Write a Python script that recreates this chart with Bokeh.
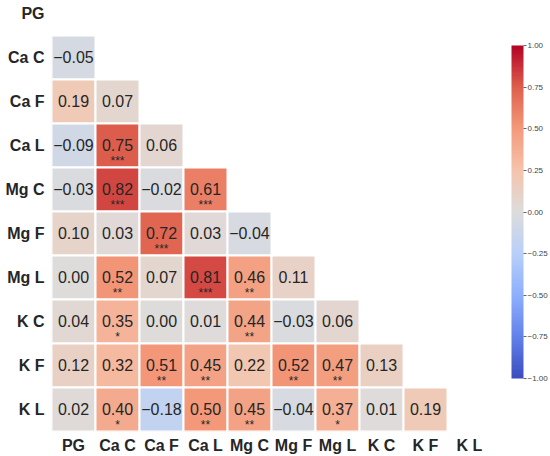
import numpy as np
from bokeh.plotting import figure
from bokeh.models import ColumnDataSource, LinearColorMapper, ColorBar, FixedTicker, Range1d
from bokeh.core.properties import value
from bokeh.embed import file_html
from bokeh.resources import INLINE

labels = ["PG", "Ca C", "Ca F", "Ca L", "Mg C", "Mg F", "Mg L", "K C", "K F", "K L"]

# lower-triangle correlation rows (row i has i values: columns 0..i-1)
r_ca_c = [-0.05]
r_ca_f = [0.19, 0.07]
r_ca_l = [-0.09, 0.75, 0.06]
r_mg_c = [-0.03, 0.82, -0.02, 0.61]
r_mg_f = [0.10, 0.03, 0.72, 0.03, -0.04]
r_mg_l = [0.00, 0.52, 0.07, 0.81, 0.46, 0.11]
r_k_c = [0.04, 0.35, 0.00, 0.01, 0.44, -0.03, 0.06]
r_k_f = [0.12, 0.32, 0.51, 0.45, 0.22, 0.52, 0.47, 0.13]
r_k_l = [0.02, 0.40, -0.18, 0.50, 0.45, -0.04, 0.37, 0.01, 0.19]

# significance stars
s_ca_c = [""]
s_ca_f = ["", ""]
s_ca_l = ["", "***", ""]
s_mg_c = ["", "***", "", "***"]
s_mg_f = ["", "", "***", "", ""]
s_mg_l = ["", "**", "", "***", "**", ""]
s_k_c = ["", "*", "", "", "**", "", ""]
s_k_f = ["", "", "**", "**", "", "**", "**", ""]
s_k_l = ["", "*", "", "**", "**", "", "*", "", ""]

cbar_ticks = [-1.0, -0.75, -0.5, -0.25, 0.0, 0.25, 0.5, 0.75, 1.0]

rows = [r_ca_c, r_ca_f, r_ca_l, r_mg_c, r_mg_f, r_mg_l, r_k_c, r_k_f, r_k_l]
stars = [s_ca_c, s_ca_f, s_ca_l, s_mg_c, s_mg_f, s_mg_l, s_k_c, s_k_f, s_k_l]

# coolwarm palette (interpolated from anchor colours)
anchors = ['#3b4cc0', '#6282ea', '#8db0fe', '#b8d0f9', '#dddcdc',
           '#f5c4ac', '#f49a7b', '#de604d', '#b40426']
anc = np.array([[int(h[i:i + 2], 16) for i in (1, 3, 5)] for h in anchors], float)
pos = np.linspace(0, 1, len(anchors))
t = np.linspace(0, 1, 256)
pal = []
for tt in t:
    rgb = [np.interp(tt, pos, anc[:, k]) for k in range(3)]
    pal.append('#%02x%02x%02x' % tuple(int(round(c)) for c in rgb))

mapper = LinearColorMapper(palette=pal, low=-1, high=1)

xs, ys, vals, txt, st = [], [], [], [], []
for i, (r, s) in enumerate(zip(rows, stars)):
    for j, (v, sv) in enumerate(zip(r, s)):
        xs.append(j)
        ys.append(i + 1)
        vals.append(v)
        txt.append(f"{v:.2f}".replace("-", "\u2212"))
        st.append(sv)

src = ColumnDataSource(dict(x=xs, y=ys, v=vals, t=txt, s=st,
                            yt=[y - 0.02 for y in ys],
                            ys=[y + 0.36 for y in ys]))

p = figure(width=550, height=456, output_backend="svg", toolbar_location=None,
           x_range=Range1d(-0.5, 9.5), y_range=Range1d(9.5, -0.295),
           min_border_left=51, min_border_right=59, min_border_top=0,
           min_border_bottom=25)
p.outline_line_color = None
p.grid.visible = False

p.rect(x="x", y="y", width=1, height=1, source=src,
       fill_color={"field": "v", "transform": mapper},
       line_color="white", line_width=2)
p.text(x="x", y="yt", text="t", source=src, text_align="center",
       text_baseline="middle", text_font=value("Liberation Sans"),
       text_font_size="16px", text_color="#262626")
p.text(x="x", y="ys", text="s", source=src, text_align="center",
       text_baseline="alphabetic", text_font=value("Liberation Sans"),
       text_font_size="12px", text_color="#262626")

for ax in (p.xaxis[0], p.yaxis[0]):
    ax.ticker = FixedTicker(ticks=list(range(10)))
    ax.major_label_overrides = {i: l for i, l in enumerate(labels)}
    ax.axis_line_color = None
    ax.major_tick_line_color = None
    ax.minor_tick_line_color = None
    ax.major_tick_out = 0
    ax.major_tick_in = 0
    ax.major_label_text_font = "Liberation Sans"
    ax.major_label_text_font_style = "bold"
    ax.major_label_text_font_size = "16px"
    ax.major_label_text_color = "#262626"
p.xaxis[0].major_label_standoff = 5
p.yaxis[0].major_label_standoff = 7

cb = ColorBar(color_mapper=mapper, width=12, height=333,
              ticker=FixedTicker(ticks=cbar_ticks),
              major_label_overrides={tk: f"{tk:.2f}".replace("-", "\u2212") for tk in cbar_ticks},
              major_label_text_font="Liberation Sans",
              major_label_text_font_size="8px",
              major_label_text_color="#444444",
              major_tick_in=0, major_tick_out=3,
              major_tick_line_color="#666666",
              bar_line_color=None, border_line_color=None,
              background_fill_color=None,
              padding=0, margin=0, label_standoff=1,
              location=(460, 53))
p.add_layout(cb, "center")

open("out.html", "w").write(file_html(p, INLINE))
